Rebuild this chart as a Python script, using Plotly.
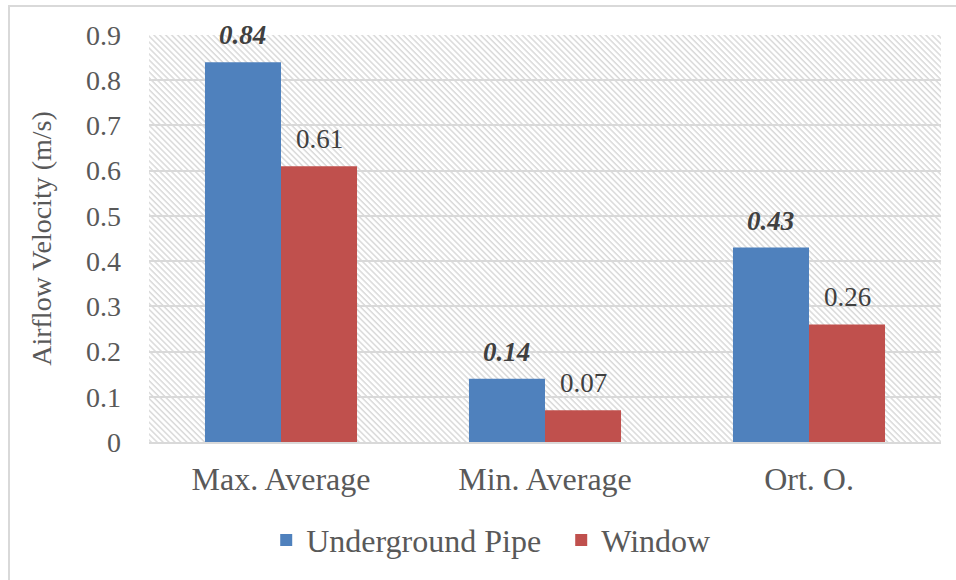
import base64
import plotly.graph_objects as go

# Airflow velocity by location
categories = ["Max. Average", "Min. Average", "Ort. O."]
underground_pipe = [0.84, 0.14, 0.43]
window = [0.61, 0.07, 0.26]
y_ticks = [0, 0.1, 0.2, 0.3, 0.4, 0.5, 0.6, 0.7, 0.8, 0.9]
y_tick_labels = ["0", "0.1", "0.2", "0.3", "0.4", "0.5", "0.6", "0.7", "0.8", "0.9"]

FONT = "Liberation Serif, Times New Roman, serif"
TEXT = "#595959"
LABEL = "#404040"

W, H = 956, 580
ML, MR, MT, MB = 149, 15, 35, 138
PW, PH = W - ML - MR, H - MT - MB
BARGAP = 0.424
BAR_PX = PW / len(categories) * (1 - BARGAP) / 2

# diagonal hatch used as the plot-area background
svg = f'''<svg xmlns="http://www.w3.org/2000/svg" width="{PW}" height="{PH}" viewBox="0 0 {PW} {PH}" preserveAspectRatio="none">
<defs><pattern id="h" width="4.2" height="4.2" patternUnits="userSpaceOnUse" patternTransform="rotate(45)">
<rect width="4.2" height="4.2" fill="#ffffff"/><rect x="0" y="0" width="4.2" height="1.5" fill="#dadada"/></pattern></defs>
<rect width="{PW}" height="{PH}" fill="url(#h)"/></svg>'''
hatch = "data:image/svg+xml;base64," + base64.b64encode(svg.encode()).decode()

fig = go.Figure()
fig.add_trace(go.Bar(name="Underground Pipe", x=categories, y=underground_pipe,
                     marker=dict(color="#4f81bd", line=dict(width=0))))
fig.add_trace(go.Bar(name="Window", x=categories, y=window,
                     marker=dict(color="#c0504d", line=dict(width=0))))

# value labels above each bar
annotations = []
for cat, v in zip(categories, underground_pipe):
    annotations.append(dict(x=cat, y=v, xref="x", yref="y", text=f"{v:.2f}", showarrow=False,
                            xshift=-BAR_PX / 2, yshift=10, yanchor="bottom",
                            font=dict(family=FONT, size=27, color=LABEL, weight="bold", style="italic")))
for cat, v in zip(categories, window):
    annotations.append(dict(x=cat, y=v, xref="x", yref="y", text=f"{v:.2f}", showarrow=False,
                            xshift=BAR_PX / 2, yshift=10, yanchor="bottom",
                            font=dict(family=FONT, size=27, color=LABEL)))

fig.update_layout(
    width=W, height=H,
    margin=dict(l=ML, r=MR, t=MT, b=MB),
    paper_bgcolor="white", plot_bgcolor="rgba(0,0,0,0)",
    barmode="group", bargap=BARGAP, bargroupgap=0,
    font=dict(family=FONT, color=TEXT),
    showlegend=True,
    legend=dict(orientation="h", x=0.148, xanchor="left", y=-0.241, yanchor="middle",
                font=dict(family=FONT, size=32, color=TEXT), itemwidth=30,
                entrywidth=250, bgcolor="rgba(0,0,0,0)"),
    annotations=annotations,
    images=[dict(source=hatch, xref="paper", yref="paper", x=0, y=1, sizex=1, sizey=1,
                 xanchor="left", yanchor="top", sizing="stretch", layer="below")],
    shapes=[dict(type="rect", xref="paper", yref="paper",
                 x0=(9 - ML) / PW, x1=1.2, y0=-0.6, y1=(PH + MT - 6) / PH,
                 line=dict(color="#d9d9d9", width=2), fillcolor="rgba(0,0,0,0)", layer="below")],
    xaxis=dict(tickfont=dict(family=FONT, size=32, color=TEXT), showgrid=False,
               showline=True, linecolor="#d9d9d9", linewidth=2, ticks="", ticklabelstandoff=8),
    yaxis=dict(range=[0, 0.9], tickvals=y_ticks, ticktext=y_tick_labels,
               tickfont=dict(family=FONT, size=28, color=TEXT),
               showgrid=True, gridcolor="#d9d9d9", gridwidth=2, zeroline=False,
               showline=False, ticks="", ticklabelstandoff=27,
               title=dict(text="Airflow Velocity (m/s)", standoff=26,
                          font=dict(family=FONT, size=28, color=TEXT))),
)

fig.write_html("out.html")
